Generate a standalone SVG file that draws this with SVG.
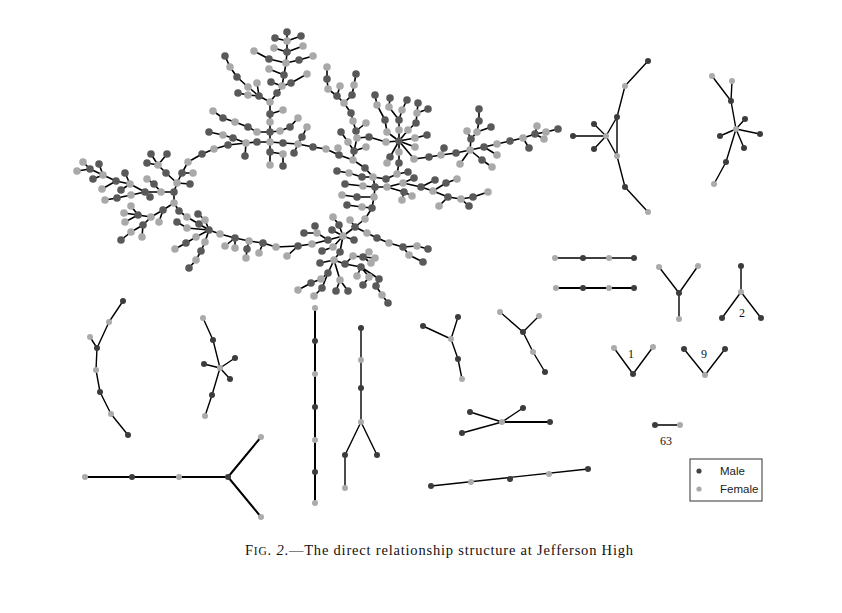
<svg xmlns="http://www.w3.org/2000/svg" width="842" height="613" viewBox="0 0 842 613">
<style>
.e{fill:none;stroke:#000;stroke-width:1.6;stroke-linecap:round;stroke-linejoin:round}
.se{fill:none;stroke:#000;stroke-width:1.4;stroke-linecap:round;stroke-linejoin:round}
.th{stroke-width:2}
.m{fill:#595959}.f{fill:#a9a9a9}
.sm{fill:#3c3c3c}.sf{fill:#ababab}
.lbl{font-family:"Liberation Serif",serif;font-size:12px;fill:#111}
.leg{font-family:"Liberation Sans",Arial,sans-serif;font-size:11.5px;fill:#222}
</style>
<rect width="842" height="613" fill="#fff"/>
<g id="connectors">
<path class="e" d="M83 162L90 169M77 171L90 169M90 169L103 175M99 164L103 175M93 179L103 175M103 175L116 181M102 189L116 181M116 181L130 184M125 173L130 184M121 190L130 184M130 184L145 192M145 192L161 192M161 192L174 192M150 197L145 192M105 200L117 198M117 198L131 195M131 195L145 192M147 179L154 184M154 184L161 192
M177 183L174 192M177 183L166 173M166 173L158 165M158 165L151 154M158 165L167 154M158 165L147 163M177 183L182 173M182 173L188 162M182 173L193 173M188 162L202 154M177 183L190 184
M174 192L174 203M174 203L179 211M179 211L187 217M187 217L209 230M174 203L163 210M163 210L151 217M151 217L138 215M138 215L131 206M138 215L124 213M138 215L125 222M151 217L143 225M143 225L131 232M131 232L121 240M143 225L142 237M163 210L159 222M198 214L205 220M205 220L209 230M199 224L209 230M209 230L196 237M196 237L186 243M186 243L175 249M209 230L205 242M205 242L201 251M201 251L196 260M196 260L189 268M177 222L187 228M187 228L209 230
M209 230L220 234M220 234L235 238M235 238L225 246M235 238L235 248M235 238L249 241M249 241L247 249M247 249L246 258M249 241L263 243M263 243L259 253M263 243L276 247M276 247L298 246M298 246L287 256M298 246L312 244M312 244L328 240M304 233L317 233M315 226L317 233M317 233L328 240
M328 240L343 236M343 236L339 225M339 225L333 217M343 236L332 230M343 236L355 227M355 227L350 220M343 236L354 240M343 236L333 247M333 247L322 251M343 236L340 252M340 252L334 260M334 260L320 263M334 260L328 273M334 260L340 280M334 260L345 264M328 273L321 279M321 279L311 283M311 283L298 290M328 273L322 288M322 288L314 296M340 280L336 291M340 280L348 291M345 264L353 256M353 256L363 257M363 257L369 252M363 257L375 258M363 257L371 263M345 264L361 267M361 267L357 276M361 267L369 277M369 277L363 285M361 267L379 279M379 279L376 286M376 286L382 295M382 295L388 303M355 227L367 233M367 233L377 238M377 238L389 243M389 243L403 247M403 247L417 246M417 246L428 249M403 247L409 255M409 255L423 262
M337 171L349 173M349 173L362 177M362 177L373 177M373 177L386 179M386 179L397 174M397 174L408 172M345 184L363 186M363 186L375 187M375 187L387 187M342 195L357 197M357 197L374 197M347 205L362 207M362 207L372 208M373 177L375 187M375 187L374 197M374 197L372 208M372 208L365 219M365 219L355 227
M387 187L403 183M403 183L414 178M387 187L404 192M404 192L412 196M404 192L402 200M403 183L421 187M421 187L433 191M421 187L435 180M433 191L446 183M446 183L457 179M433 191L448 197M448 197L439 206M448 197L461 199M461 199L473 197M473 197L488 192M461 199L469 206
M287 32L287 41M275 38L287 41M301 36L287 41M287 41L287 52M274 48L287 52M303 46L287 52M287 52L286 63M254 51L269 59M269 59L286 63M286 63L299 60M299 60L313 56M286 63L284 75M269 69L284 75M284 75L282 86M291 83L282 86M307 74L291 83M271 82L282 86M282 86L277 93M277 93L270 102M225 56L230 67M230 67L237 77M237 77L248 87M248 87L259 96M257 83L259 96M238 93L248 95M248 95L259 96M259 96L270 102M270 102L270 114M283 110L270 114M270 114L270 122M270 122L270 132M213 111L223 118M223 118L235 122M235 122L248 127M248 127L257 132M257 132L270 132M270 132L280 131M280 131L290 127M290 127L298 118M307 127L302 137M302 137L298 144M270 132L270 142M202 154L214 149M214 149L228 145M228 145L246 143M209 132L223 135M223 135L233 138M233 138L246 143M245 156L246 143M246 143L257 142M257 142L270 142M270 142L283 143M283 143L298 144M298 144L313 147M313 147L326 149M326 149L339 155M270 142L270 152M270 152L270 165M270 152L283 154M283 154L283 166M298 144L294 153
M327 67L327 79M327 79L328 89M328 89L337 96M337 96L340 86M337 96L344 103M356 74L354 85M354 85L352 95M352 95L344 103M344 103L351 113M351 113L353 121M353 121L356 131M356 131L366 123M356 131L357 138M357 138L369 137M341 132L348 142M348 142L354 151M357 138L354 151M354 151L366 147M354 151L353 160M339 155L338 148M339 155L353 160M353 160L365 168M365 168L373 177M386 142L369 137
M399 141L387 132M387 132L385 120M385 120L377 105M377 105L375 95M399 141L399 130M399 130L399 120M399 120L389 107M389 107L390 98M399 120L402 110M402 110L407 100M399 141L408 130M408 130L416 123M416 123L417 113M417 113L418 103M417 113L428 109M399 141L415 138M415 138L427 135M399 141L386 142M399 141L415 147M399 141L399 152M399 152L399 163M399 141L390 157M390 157L387 163M399 141L414 159M414 159L429 157M429 157L441 155M441 155L444 148M399 163L397 174
M441 155L456 153M456 153L470 150M470 150L471 139M471 139L467 131M471 139L477 132M477 132L479 121M479 121L479 109M477 132L491 127M470 150L484 147M484 147L497 144M497 144L510 141M510 141L523 138M523 138L535 134M535 134L537 126M535 134L546 132M546 132L558 129M535 134L544 139M523 138L529 148M470 150L482 160M482 160L492 167M470 150L460 164M484 147L497 155"/>
<path class="se" d="M648 61L625 86L617 117L606 136M617 117L617 156M606 136L617 156L625 187L648 212M606 136L594 124M606 136L573 136M606 136L594 149"/>
<path class="se" d="M712 76L731 101L736 129M732 81L731 101M736 129L745 119M736 129L760 134M736 129L744 148M736 129L720 136M736 129L726 162L714 184"/>
<path class="se" d="M555 258L634 258"/>
<path class="se th" d="M556 288L634 288"/>
<path class="se" d="M659 267L679 293L698 266M679 293L679 319"/>
<path class="se" d="M741 266L741 292M722 318L741 292L761 318"/>
<path class="se" d="M614 348L633 374L653 347"/>
<path class="se" d="M684 349L705 375L725 349"/>
<path class="se" d="M655 425L680 425"/>
<path class="se" d="M123 301L109 322L97 348L96 370L100 392L111 414L128 435M90 337L97 348"/>
<path class="se" d="M203 318L213 340L220 368M220 368L204 364M220 368L235 358M220 368L230 379M220 368L212 395L205 416"/>
<path class="se th" d="M85 477L228 477M261 437L228 477L261 517"/>
<path class="se th" d="M315 308L315 503"/>
<path class="se" d="M361 328L361 422M345 488L345 455L361 422L377 455"/>
<path class="se" d="M423 326L451 339L458 359L462 379M458 317L451 339"/>
<path class="se" d="M500 312L523 332L539 316M523 332L533 352L545 372"/>
<path class="se" d="M470 412L502 422L523 408M462 433L502 422"/>
<path class="se th" d="M502 422L550 422"/>
<path class="se" d="M431 486L588 469"/>
</g>
<g id="giant">
<g class="m">
<circle cx="90" cy="169" r="3.8"/><circle cx="99" cy="164" r="3.8"/><circle cx="93" cy="179" r="3.8"/><circle cx="116" cy="181" r="3.8"/><circle cx="125" cy="173" r="3.8"/><circle cx="121" cy="190" r="3.8"/><circle cx="145" cy="192" r="3.8"/><circle cx="117" cy="198" r="3.8"/><circle cx="174" cy="192" r="3.8"/><circle cx="154" cy="184" r="3.8"/><circle cx="150" cy="197" r="3.8"/>
<circle cx="166" cy="173" r="3.8"/><circle cx="151" cy="154" r="3.8"/><circle cx="167" cy="154" r="3.8"/><circle cx="147" cy="163" r="3.8"/><circle cx="182" cy="173" r="3.8"/><circle cx="202" cy="154" r="3.8"/><circle cx="190" cy="184" r="3.8"/>
<circle cx="179" cy="211" r="3.8"/><circle cx="163" cy="210" r="3.8"/><circle cx="138" cy="215" r="3.8"/><circle cx="143" cy="225" r="3.8"/><circle cx="121" cy="240" r="3.8"/><circle cx="198" cy="214" r="3.8"/><circle cx="199" cy="224" r="3.8"/><circle cx="209" cy="230" r="3.8"/><circle cx="186" cy="243" r="3.8"/><circle cx="201" cy="251" r="3.8"/><circle cx="189" cy="268" r="3.8"/><circle cx="177" cy="222" r="3.8"/>
<circle cx="235" cy="238" r="3.8"/><circle cx="247" cy="249" r="3.8"/><circle cx="263" cy="243" r="3.8"/><circle cx="298" cy="246" r="3.8"/><circle cx="328" cy="240" r="3.8"/><circle cx="304" cy="233" r="3.8"/><circle cx="315" cy="226" r="3.8"/>
<circle cx="339" cy="225" r="3.8"/><circle cx="332" cy="230" r="3.8"/><circle cx="355" cy="227" r="3.8"/><circle cx="354" cy="240" r="3.8"/><circle cx="322" cy="251" r="3.8"/><circle cx="340" cy="252" r="3.8"/><circle cx="320" cy="263" r="3.8"/><circle cx="328" cy="273" r="3.8"/><circle cx="311" cy="283" r="3.8"/><circle cx="322" cy="288" r="3.8"/><circle cx="336" cy="291" r="3.8"/><circle cx="348" cy="291" r="3.8"/><circle cx="345" cy="264" r="3.8"/><circle cx="363" cy="257" r="3.8"/><circle cx="361" cy="267" r="3.8"/><circle cx="363" cy="285" r="3.8"/><circle cx="379" cy="279" r="3.8"/><circle cx="376" cy="286" r="3.8"/><circle cx="388" cy="303" r="3.8"/><circle cx="377" cy="238" r="3.8"/><circle cx="403" cy="247" r="3.8"/><circle cx="428" cy="249" r="3.8"/><circle cx="423" cy="262" r="3.8"/>
<circle cx="337" cy="171" r="3.8"/><circle cx="362" cy="177" r="3.8"/><circle cx="386" cy="179" r="3.8"/><circle cx="408" cy="172" r="3.8"/><circle cx="345" cy="184" r="3.8"/><circle cx="375" cy="187" r="3.8"/><circle cx="357" cy="197" r="3.8"/><circle cx="347" cy="205" r="3.8"/><circle cx="372" cy="208" r="3.8"/>
<circle cx="414" cy="178" r="3.8"/><circle cx="404" cy="192" r="3.8"/><circle cx="421" cy="187" r="3.8"/><circle cx="435" cy="180" r="3.8"/><circle cx="446" cy="183" r="3.8"/><circle cx="448" cy="197" r="3.8"/><circle cx="473" cy="197" r="3.8"/><circle cx="469" cy="206" r="3.8"/>
<circle cx="287" cy="32" r="3.8"/><circle cx="275" cy="38" r="3.8"/><circle cx="301" cy="36" r="3.8"/><circle cx="287" cy="52" r="3.8"/><circle cx="269" cy="59" r="3.8"/><circle cx="299" cy="60" r="3.8"/><circle cx="284" cy="75" r="3.8"/><circle cx="291" cy="83" r="3.8"/><circle cx="271" cy="82" r="3.8"/><circle cx="277" cy="93" r="3.8"/><circle cx="225" cy="56" r="3.8"/><circle cx="237" cy="77" r="3.8"/><circle cx="259" cy="96" r="3.8"/><circle cx="238" cy="93" r="3.8"/><circle cx="270" cy="114" r="3.8"/><circle cx="270" cy="132" r="3.8"/><circle cx="223" cy="118" r="3.8"/><circle cx="248" cy="127" r="3.8"/><circle cx="290" cy="127" r="3.8"/><circle cx="302" cy="137" r="3.8"/><circle cx="209" cy="132" r="3.8"/><circle cx="233" cy="138" r="3.8"/><circle cx="228" cy="145" r="3.8"/><circle cx="257" cy="142" r="3.8"/><circle cx="283" cy="143" r="3.8"/><circle cx="313" cy="147" r="3.8"/><circle cx="339" cy="155" r="3.8"/><circle cx="245" cy="156" r="3.8"/><circle cx="270" cy="152" r="3.8"/><circle cx="283" cy="166" r="3.8"/><circle cx="294" cy="153" r="3.8"/>
<circle cx="327" cy="79" r="3.8"/><circle cx="337" cy="96" r="3.8"/><circle cx="356" cy="74" r="3.8"/><circle cx="352" cy="95" r="3.8"/><circle cx="351" cy="113" r="3.8"/><circle cx="356" cy="131" r="3.8"/><circle cx="341" cy="132" r="3.8"/><circle cx="369" cy="137" r="3.8"/><circle cx="354" cy="151" r="3.8"/><circle cx="365" cy="168" r="3.8"/>
<circle cx="399" cy="141" r="3.8"/><circle cx="385" cy="120" r="3.8"/><circle cx="375" cy="95" r="3.8"/><circle cx="399" cy="120" r="3.8"/><circle cx="390" cy="98" r="3.8"/><circle cx="407" cy="100" r="3.8"/><circle cx="416" cy="123" r="3.8"/><circle cx="418" cy="103" r="3.8"/><circle cx="428" cy="109" r="3.8"/><circle cx="427" cy="135" r="3.8"/><circle cx="399" cy="163" r="3.8"/><circle cx="390" cy="157" r="3.8"/><circle cx="429" cy="157" r="3.8"/><circle cx="444" cy="148" r="3.8"/>
<circle cx="456" cy="153" r="3.8"/><circle cx="471" cy="139" r="3.8"/><circle cx="479" cy="121" r="3.8"/><circle cx="479" cy="109" r="3.8"/><circle cx="491" cy="127" r="3.8"/><circle cx="484" cy="147" r="3.8"/><circle cx="510" cy="141" r="3.8"/><circle cx="535" cy="134" r="3.8"/><circle cx="558" cy="129" r="3.8"/><circle cx="529" cy="148" r="3.8"/><circle cx="482" cy="160" r="3.8"/>
</g>
<g class="f">
<circle cx="83" cy="162" r="3.8"/><circle cx="77" cy="171" r="3.8"/><circle cx="103" cy="175" r="3.8"/><circle cx="102" cy="189" r="3.8"/><circle cx="130" cy="184" r="3.8"/><circle cx="131" cy="195" r="3.8"/><circle cx="105" cy="200" r="3.8"/><circle cx="161" cy="192" r="3.8"/><circle cx="147" cy="179" r="3.8"/>
<circle cx="177" cy="183" r="3.8"/><circle cx="158" cy="165" r="3.8"/><circle cx="188" cy="162" r="3.8"/><circle cx="193" cy="173" r="3.8"/>
<circle cx="174" cy="203" r="3.8"/><circle cx="187" cy="217" r="3.8"/><circle cx="151" cy="217" r="3.8"/><circle cx="131" cy="206" r="3.8"/><circle cx="124" cy="213" r="3.8"/><circle cx="125" cy="222" r="3.8"/><circle cx="131" cy="232" r="3.8"/><circle cx="142" cy="237" r="3.8"/><circle cx="159" cy="222" r="3.8"/><circle cx="205" cy="220" r="3.8"/><circle cx="196" cy="237" r="3.8"/><circle cx="175" cy="249" r="3.8"/><circle cx="205" cy="242" r="3.8"/><circle cx="196" cy="260" r="3.8"/><circle cx="187" cy="228" r="3.8"/>
<circle cx="220" cy="234" r="3.8"/><circle cx="225" cy="246" r="3.8"/><circle cx="235" cy="248" r="3.8"/><circle cx="249" cy="241" r="3.8"/><circle cx="246" cy="258" r="3.8"/><circle cx="259" cy="253" r="3.8"/><circle cx="276" cy="247" r="3.8"/><circle cx="287" cy="256" r="3.8"/><circle cx="312" cy="244" r="3.8"/><circle cx="317" cy="233" r="3.8"/>
<circle cx="343" cy="236" r="3.8"/><circle cx="333" cy="217" r="3.8"/><circle cx="350" cy="220" r="3.8"/><circle cx="333" cy="247" r="3.8"/><circle cx="334" cy="260" r="3.8"/><circle cx="321" cy="279" r="3.8"/><circle cx="298" cy="290" r="3.8"/><circle cx="314" cy="296" r="3.8"/><circle cx="340" cy="280" r="3.8"/><circle cx="353" cy="256" r="3.8"/><circle cx="369" cy="252" r="3.8"/><circle cx="375" cy="258" r="3.8"/><circle cx="371" cy="263" r="3.8"/><circle cx="357" cy="276" r="3.8"/><circle cx="369" cy="277" r="3.8"/><circle cx="382" cy="295" r="3.8"/><circle cx="367" cy="233" r="3.8"/><circle cx="389" cy="243" r="3.8"/><circle cx="417" cy="246" r="3.8"/><circle cx="409" cy="255" r="3.8"/>
<circle cx="349" cy="173" r="3.8"/><circle cx="373" cy="177" r="3.8"/><circle cx="397" cy="174" r="3.8"/><circle cx="363" cy="186" r="3.8"/><circle cx="387" cy="187" r="3.8"/><circle cx="342" cy="195" r="3.8"/><circle cx="374" cy="197" r="3.8"/><circle cx="362" cy="207" r="3.8"/><circle cx="365" cy="219" r="3.8"/>
<circle cx="403" cy="183" r="3.8"/><circle cx="412" cy="196" r="3.8"/><circle cx="402" cy="200" r="3.8"/><circle cx="433" cy="191" r="3.8"/><circle cx="457" cy="179" r="3.8"/><circle cx="439" cy="206" r="3.8"/><circle cx="461" cy="199" r="3.8"/><circle cx="488" cy="192" r="3.8"/>
<circle cx="287" cy="41" r="3.8"/><circle cx="274" cy="48" r="3.8"/><circle cx="303" cy="46" r="3.8"/><circle cx="254" cy="51" r="3.8"/><circle cx="286" cy="63" r="3.8"/><circle cx="313" cy="56" r="3.8"/><circle cx="269" cy="69" r="3.8"/><circle cx="307" cy="74" r="3.8"/><circle cx="282" cy="86" r="3.8"/><circle cx="270" cy="102" r="3.8"/><circle cx="230" cy="67" r="3.8"/><circle cx="248" cy="87" r="3.8"/><circle cx="257" cy="83" r="3.8"/><circle cx="248" cy="95" r="3.8"/><circle cx="283" cy="110" r="3.8"/><circle cx="270" cy="122" r="3.8"/><circle cx="213" cy="111" r="3.8"/><circle cx="235" cy="122" r="3.8"/><circle cx="257" cy="132" r="3.8"/><circle cx="280" cy="131" r="3.8"/><circle cx="298" cy="118" r="3.8"/><circle cx="307" cy="127" r="3.8"/><circle cx="223" cy="135" r="3.8"/><circle cx="214" cy="149" r="3.8"/><circle cx="246" cy="143" r="3.8"/><circle cx="270" cy="142" r="3.8"/><circle cx="298" cy="144" r="3.8"/><circle cx="326" cy="149" r="3.8"/><circle cx="270" cy="165" r="3.8"/><circle cx="283" cy="154" r="3.8"/>
<circle cx="327" cy="67" r="3.8"/><circle cx="328" cy="89" r="3.8"/><circle cx="340" cy="86" r="3.8"/><circle cx="354" cy="85" r="3.8"/><circle cx="344" cy="103" r="3.8"/><circle cx="353" cy="121" r="3.8"/><circle cx="366" cy="123" r="3.8"/><circle cx="348" cy="142" r="3.8"/><circle cx="357" cy="138" r="3.8"/><circle cx="366" cy="147" r="3.8"/><circle cx="338" cy="148" r="3.8"/><circle cx="353" cy="160" r="3.8"/>
<circle cx="387" cy="132" r="3.8"/><circle cx="377" cy="105" r="3.8"/><circle cx="399" cy="130" r="3.8"/><circle cx="389" cy="107" r="3.8"/><circle cx="402" cy="110" r="3.8"/><circle cx="408" cy="130" r="3.8"/><circle cx="417" cy="113" r="3.8"/><circle cx="415" cy="138" r="3.8"/><circle cx="386" cy="142" r="3.8"/><circle cx="415" cy="147" r="3.8"/><circle cx="399" cy="152" r="3.8"/><circle cx="387" cy="163" r="3.8"/><circle cx="414" cy="159" r="3.8"/><circle cx="441" cy="155" r="3.8"/>
<circle cx="470" cy="150" r="3.8"/><circle cx="467" cy="131" r="3.8"/><circle cx="477" cy="132" r="3.8"/><circle cx="497" cy="144" r="3.8"/><circle cx="523" cy="138" r="3.8"/><circle cx="537" cy="126" r="3.8"/><circle cx="546" cy="132" r="3.8"/><circle cx="544" cy="139" r="3.8"/><circle cx="492" cy="167" r="3.8"/><circle cx="460" cy="164" r="3.8"/><circle cx="497" cy="155" r="3.8"/>
</g>
</g>
<g id="comp-arc-top">
<circle class="sm" cx="648" cy="61" r="3"/><circle class="sf" cx="625" cy="86" r="3"/><circle class="sm" cx="617" cy="117" r="3"/><circle class="sf" cx="606" cy="136" r="3"/><circle class="sm" cx="594" cy="124" r="3"/><circle class="sm" cx="573" cy="136" r="3"/><circle class="sm" cx="594" cy="149" r="3"/><circle class="sf" cx="617" cy="156" r="3"/><circle class="sm" cx="625" cy="187" r="3"/><circle class="sf" cx="648" cy="212" r="3"/>
</g>
<g id="comp-star-top">
<circle class="sf" cx="712" cy="76" r="3"/><circle class="sf" cx="732" cy="81" r="3"/><circle class="sm" cx="731" cy="101" r="3"/><circle class="sf" cx="736" cy="129" r="3"/><circle class="sm" cx="745" cy="119" r="3"/><circle class="sm" cx="760" cy="134" r="3"/><circle class="sm" cx="744" cy="148" r="3"/><circle class="sm" cx="720" cy="136" r="3"/><circle class="sm" cx="726" cy="162" r="3"/><circle class="sf" cx="714" cy="184" r="3"/>
</g>
<g id="comp-line1"><circle class="sf" cx="555" cy="258" r="3"/><circle class="sm" cx="583" cy="258" r="3"/><circle class="sf" cx="609" cy="258" r="3"/><circle class="sm" cx="634" cy="258" r="3"/></g>
<g id="comp-line2"><circle class="sf" cx="556" cy="288" r="3"/><circle class="sm" cx="583" cy="288" r="3"/><circle class="sf" cx="609" cy="288" r="3"/><circle class="sm" cx="634" cy="288" r="3"/></g>
<g id="comp-y"><circle class="sf" cx="659" cy="267" r="3"/><circle class="sf" cx="698" cy="266" r="3"/><circle class="sm" cx="679" cy="293" r="3"/><circle class="sf" cx="679" cy="319" r="3"/></g>
<g id="comp-2"><circle class="sm" cx="741" cy="266" r="3"/><circle class="sf" cx="741" cy="292" r="3"/><circle class="sm" cx="722" cy="318" r="3"/><circle class="sm" cx="761" cy="318" r="3"/><text class="lbl" x="742" y="317" text-anchor="middle">2</text></g>
<g id="comp-1"><circle class="sf" cx="614" cy="348" r="3"/><circle class="sf" cx="653" cy="347" r="3"/><circle class="sm" cx="633" cy="374" r="3"/><text class="lbl" x="631" y="358" text-anchor="middle">1</text></g>
<g id="comp-9"><circle class="sm" cx="684" cy="349" r="3"/><circle class="sm" cx="725" cy="349" r="3"/><circle class="sf" cx="705" cy="375" r="3"/><text class="lbl" x="704" y="358" text-anchor="middle">9</text></g>
<g id="comp-63"><circle class="sm" cx="655" cy="425" r="3"/><circle class="sf" cx="680" cy="425" r="3"/><text class="lbl" x="666" y="445" text-anchor="middle">63</text></g>
<g id="comp-arc-left">
<circle class="sm" cx="123" cy="301" r="3"/><circle class="sf" cx="109" cy="322" r="3"/><circle class="sf" cx="90" cy="337" r="3"/><circle class="sm" cx="97" cy="348" r="3"/><circle class="sf" cx="96" cy="370" r="3"/><circle class="sm" cx="100" cy="392" r="3"/><circle class="sf" cx="111" cy="414" r="3"/><circle class="sm" cx="128" cy="435" r="3"/>
</g>
<g id="comp-star-left">
<circle class="sf" cx="203" cy="318" r="3"/><circle class="sm" cx="213" cy="340" r="3"/><circle class="sf" cx="220" cy="368" r="3"/><circle class="sm" cx="204" cy="364" r="3"/><circle class="sm" cx="235" cy="358" r="3"/><circle class="sm" cx="230" cy="379" r="3"/><circle class="sm" cx="212" cy="395" r="3"/><circle class="sf" cx="205" cy="416" r="3"/>
</g>
<g id="comp-fork">
<circle class="sf" cx="85" cy="477" r="3"/><circle class="sm" cx="132" cy="477" r="3"/><circle class="sf" cx="179" cy="477" r="3"/><circle class="sm" cx="228" cy="477" r="3"/><circle class="sf" cx="261" cy="437" r="3"/><circle class="sf" cx="261" cy="517" r="3"/>
</g>
<g id="comp-vline">
<circle class="sf" cx="315" cy="308" r="3"/><circle class="sm" cx="315" cy="341" r="3"/><circle class="sf" cx="315" cy="374" r="3"/><circle class="sm" cx="315" cy="407" r="3"/><circle class="sf" cx="315" cy="440" r="3"/><circle class="sm" cx="315" cy="472" r="3"/><circle class="sf" cx="315" cy="503" r="3"/>
</g>
<g id="comp-vfork">
<circle class="sm" cx="361" cy="328" r="3"/><circle class="sf" cx="361" cy="360" r="3"/><circle class="sm" cx="361" cy="388" r="3"/><circle class="sf" cx="361" cy="422" r="3"/><circle class="sm" cx="345" cy="455" r="3"/><circle class="sm" cx="377" cy="455" r="3"/><circle class="sf" cx="345" cy="488" r="3"/>
</g>
<g id="comp-a"><circle class="sm" cx="423" cy="326" r="3"/><circle class="sm" cx="458" cy="317" r="3"/><circle class="sf" cx="451" cy="339" r="3"/><circle class="sm" cx="458" cy="359" r="3"/><circle class="sf" cx="462" cy="379" r="3"/></g>
<g id="comp-b"><circle class="sf" cx="500" cy="312" r="3"/><circle class="sf" cx="539" cy="316" r="3"/><circle class="sm" cx="523" cy="332" r="3"/><circle class="sf" cx="533" cy="352" r="3"/><circle class="sm" cx="545" cy="372" r="3"/></g>
<g id="comp-c"><circle class="sm" cx="470" cy="412" r="3"/><circle class="sm" cx="523" cy="408" r="3"/><circle class="sf" cx="502" cy="422" r="3"/><circle class="sm" cx="550" cy="422" r="3"/><circle class="sm" cx="462" cy="433" r="3"/></g>
<g id="comp-d"><circle class="sm" cx="431" cy="486" r="3"/><circle class="sf" cx="471" cy="482" r="3"/><circle class="sm" cx="510" cy="479" r="3"/><circle class="sf" cx="549" cy="474" r="3"/><circle class="sm" cx="588" cy="469" r="3"/></g>
<g id="legend">
<rect x="690" y="459" width="72" height="42" fill="#fff" stroke="#333" stroke-width="1"/>
<circle cx="699" cy="471" r="2.6" fill="#444"/>
<text class="leg" x="720" y="475">Male</text>
<circle cx="699" cy="489" r="2.6" fill="#aaa"/>
<text class="leg" x="720" y="493">Female</text>
</g>
<text x="245" y="555" font-family="Liberation Serif, serif" font-size="14.5" fill="#111" textLength="388" lengthAdjust="spacing">F<tspan font-size="11.5">IG</tspan>. <tspan font-style="italic">2</tspan>.—The direct relationship structure at Jefferson High</text>
</svg>
